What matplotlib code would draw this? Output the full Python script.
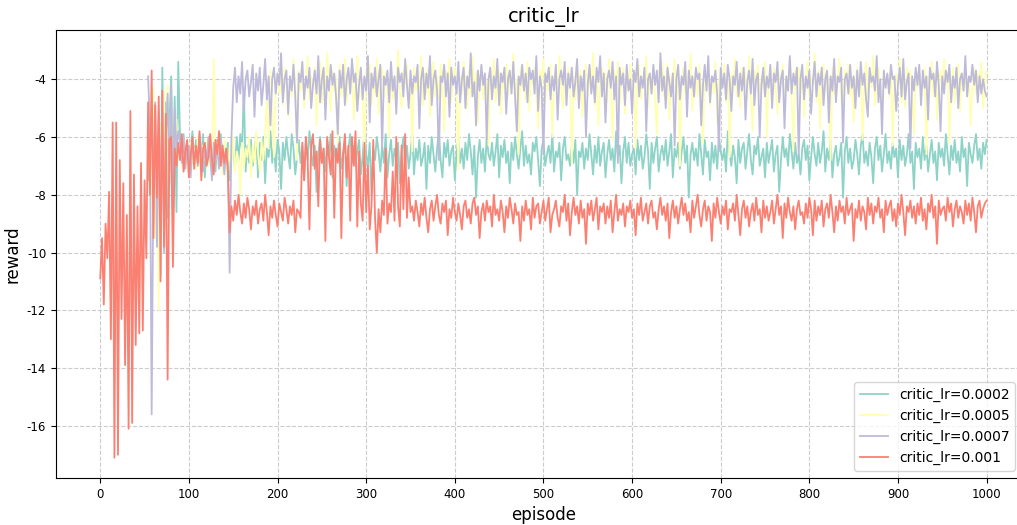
import numpy as np
from matplotlib import pyplot as plt

plt.rcParams['axes.unicode_minus'] = False

# rewards per episode (every 2nd episode)
labels = ['critic_lr=0.0002', 'critic_lr=0.0005', 'critic_lr=0.0007', 'critic_lr=0.001']
colors = ['#8dd3c7', '#ffffb3', '#bebada', '#fb8072']

# critic_lr=0.001, episodes 0..1000
red = [
    -10.9,-9.5,-11.8,-9.0,-10.2,-7.9,-13.0,-5.5,-17.1,-5.5,-17.0,-6.8,-12.3,-7.6,-13.9,-8.7,-16.1,-5.1,-15.9,-7.3,
    -13.2,-8.4,-12.8,-6.9,-12.7,-7.5,-10.2,-4.8,-8.0,-3.7,-9.5,-4.9,-8.1,-4.6,-11.0,-4.4,-9.8,-5.2,-14.4,-6.1,-6.0,
    -10.5,-6.4,-7.0,-6.2,-6.8,-5.9,-7.2,-6.5,-6.1,-7.4,
    -6.6,-6.0,-7.1,-6.3,-6.9,-5.8,-7.5,-6.4,-6.2,-7.0,
    -6.7,-5.9,-6.8,-7.3,-6.1,-6.6,-5.8,-7.0,-6.3,-6.9,
    -6.4,-7.2,
    -9.3,-8.4,-8.9,-8.2,-8.7,-8.0,-8.6,-9.0,-8.3,-8.8,
    -8.1,-8.5,-9.2,-8.4,-8.7,-8.2,-9.0,-8.5,-8.3,-8.9,
    -8.0,-8.6,-9.4,-8.4,-8.8,-8.2,-8.7,-9.1,-8.3,-8.6,
    -8.9,-8.1,-8.5,-9.0,-8.4,-8.7,-8.2,-9.3,-8.5,-8.6,
    -8.8,
    -6.2,-7.5,-6.0,-6.8,-9.2,-6.3,-5.9,-7.1,-6.5,-8.4,
    -6.1,-6.9,-6.4,-9.6,-6.0,-6.7,-7.3,-5.8,-8.8,-6.4,
    -6.9,-6.2,-9.5,-6.6,-5.9,-7.4,-6.3,-8.9,-6.0,-7.0,
    -5.8,-9.1,-6.5,
    -8.3,-8.9,-6.2,-8.6,-7.0,-9.2,-8.4,-6.1,-8.8,-10.0,
    -8.5,-9.3,-8.2,-8.7,-6.4,-9.0,-8.3,-8.6,-7.2,-8.9,
    -6.0,-8.4,-9.1,-6.3,-8.5,-5.9,-8.8,-7.4,-8.6,
    -8.4,-8.9,-8.2,-8.6,-9.1,-8.3,-8.7,-8.1,-8.8,-9.3,
    -8.5,-8.2,-8.9,-8.4,-8.0,-8.7,-9.0,-8.3,-8.6,-8.2,
    -9.4,-8.5,-8.8,-8.1,-8.6,-8.9,-8.3,-8.7,-9.2,-8.4,
    -8.2,-8.8,-8.5,-9.0,-8.3,-8.1,-8.7,-8.4,-9.5,-8.6,
    -8.3,-8.9,-8.2,-8.6,-8.4,-9.1,-8.0,-8.7,-8.5,-8.9,
    -8.2,-8.6,-9.3,-8.4,-8.8,-8.1,-8.5,-9.0,-8.3,-8.7,
    -8.6,-9.6,-8.4,-8.9,-8.2,-8.7,-8.5,-9.2,-8.1,-8.8,
    -8.4,-8.3,-9.0,-8.6,-8.2,-8.9,-8.5,-8.1,-9.3,-8.7,
    -8.5,-8.2,-8.8,-9.1,-8.4,-8.6,-8.0,-8.9,-8.3,-9.4,
    -8.6,-8.1,-8.7,-8.4,-9.0,-8.2,-8.8,-8.5,-9.7,-8.3,
    -8.7,-8.2,-8.9,-8.5,-8.1,-9.2,-8.4,-8.6,-8.3,-9.0,
    -8.4,-8.8,-8.2,-9.3,-8.6,-8.0,-8.9,-8.5,-8.7,-8.3,
    -9.1,-8.4,-8.6,-8.2,-8.8,-8.5,-9.4,-8.3,-8.7,-8.1,
    -8.9,-8.6,-8.3,-9.0,-8.4,-8.2,-8.8,-8.6,-9.2,-8.5,
    -8.1,-8.7,-8.4,-8.9,-8.3,-9.5,-8.6,-8.2,-8.8,-8.4,
    -9.0,-8.5,-8.1,-8.7,-8.3,-8.9,-8.6,-9.3,-8.2,-8.8,
    -8.4,-8.0,-8.7,-9.1,-8.5,-8.2,-8.9,-8.4,-8.6,-9.6,
    -8.3,-8.8,-8.1,-8.6,-9.0,-8.4,-8.7,-8.2,-9.2,-8.5,
    -8.6,-8.3,-8.9,-8.0,-8.7,-9.4,-8.5,-8.2,-8.8,-8.4,
    -9.1,-8.6,-8.3,-8.9,-8.1,-8.7,-8.5,-9.3,-8.2,-8.8,
    -8.4,-8.9,-8.6,-8.2,-9.0,-8.5,-8.0,-8.7,-8.4,-9.5,
    -8.3,-8.8,-8.1,-8.6,-8.9,-8.4,-9.2,-8.5,-8.2,-8.7,
    -8.6,-9.0,-8.3,-8.8,-8.1,-8.5,-9.4,-8.2,-8.9,-8.4,
    -8.7,-8.2,-9.1,-8.5,-8.3,-8.8,-8.0,-8.6,-9.3,-8.4,
    -8.9,-8.2,-8.6,-8.4,-9.0,-8.1,-8.7,-8.5,-8.3,-9.6,
    -8.5,-8.8,-8.2,-8.9,-8.4,-8.6,-9.2,-8.1,-8.7,-8.3,
    -9.0,-8.4,-8.6,-8.1,-8.8,-8.5,-9.3,-8.2,-8.7,-8.4,
    -8.2,-8.9,-8.5,-9.1,-8.3,-8.7,-8.0,-8.6,-9.4,-8.4,
    -8.6,-8.2,-8.8,-8.4,-9.0,-8.3,-8.7,-8.1,-8.9,-8.5,
    -9.2,-8.3,-8.6,-8.0,-8.8,-8.4,-9.7,-8.2,-8.7,-8.5,
    -8.4,-8.9,-8.1,-8.6,-8.3,-9.1,-8.5,-8.2,-8.8,-8.4,
    -8.6,-9.0,-8.2,-8.7,-8.3,-8.9,-8.1,-8.6,-9.3,-8.4,
    -8.2,-8.8,-8.5,-8.3,-8.2,
]

# critic_lr=0.0002, episodes 54..1000
green = [
    -7.5,-6.0,-8.2,-5.2,-9.0,-6.1,-8.5,-10.8,-3.6,-7.4,-4.8,-8.8,-5.5,-3.9,-7.7,-4.6,-8.6,-3.4,
    -6.0,-6.6,-5.9,-6.9,-6.2,-7.3,-6.4,-5.8,-6.8,-6.1,
    -7.0,-6.3,-6.7,-5.9,-7.4,-6.2,-6.5,-6.0,-6.9,-6.4,
    -7.2,-6.1,-6.6,-5.9,-7.0,-6.3,-6.8,-6.2,-7.5,-6.4,
    -6.4,-7.1,-6.0,-6.8,-5.9,-6.5,-4.3,-7.2,-6.3,-6.9,
    -6.1,-7.0,-6.6,-5.9,-7.4,-6.2,-6.8,-6.0,-7.6,-6.4,
    -6.7,-5.8,-6.9,-6.3,-7.2,-6.1,-6.5,-7.8,-6.2,-6.8,
    -6.0,-6.6,-7.1,-5.9,-6.4,-7.3,-6.7,-6.1,-6.9,-6.3,
    -7.5,-6.2,-6.8,-5.8,-6.5,-7.0,-6.3,-7.9,-6.6,-6.0,
    -6.9,-6.4,-7.2,-6.1,-6.7,-5.9,-7.4,-6.3,-6.8,-6.5,
    -6.0,-7.1,-6.6,-6.2,-7.7,-6.4,-5.9,-6.9,-6.3,-7.0,
    -6.5,-6.1,-7.3,-6.7,-5.8,-6.6,-7.0,-6.2,-8.0,-6.4,
    -6.8,-6.0,-6.5,-7.2,-6.3,-6.9,-5.9,-7.4,-6.6,-6.1,
    -7.0,-6.4,-6.8,-6.2,-7.6,-6.5,-6.0,-6.9,-6.3,-7.1,
    -6.6,-5.9,-7.3,-6.4,-6.8,-6.1,-7.0,-6.7,-6.2,-7.8,
    -6.3,-6.9,-6.0,-6.6,-7.2,-6.4,-5.8,-6.8,-7.4,-6.2,
    -6.7,-6.1,-7.0,-6.5,-6.3,-7.5,-6.6,-6.0,-6.9,-6.4,
    -7.1,-6.2,-6.8,-5.9,-6.5,-7.3,-6.3,-8.1,-6.7,-6.1,
    -6.9,-6.4,-7.2,-6.0,-6.6,-6.8,-6.2,-7.0,-6.5,-5.9,
    -7.4,-6.3,-6.7,-6.1,-6.9,-6.5,-7.6,-6.2,-6.8,-6.0,
    -6.6,-7.1,-6.4,-5.8,-7.0,-6.3,-6.9,-6.6,-7.3,-6.2,
    -6.5,-6.0,-6.8,-7.7,-6.4,-6.1,-7.0,-6.6,-6.3,-6.9,
    -5.9,-7.2,-6.5,-6.7,-6.2,-7.5,-6.4,-6.0,-6.8,-6.6,
    -7.0,-6.3,-6.9,-6.1,-8.0,-6.5,-6.7,-6.2,-7.1,-6.4,
    -6.8,-5.9,-6.6,-7.3,-6.3,-6.9,-6.0,-7.0,-6.5,-6.2,
    -7.4,-6.6,-6.1,-6.8,-6.4,-7.2,-5.8,-6.7,-6.3,-7.6,
    -6.5,-6.0,-6.9,-6.2,-7.0,-6.6,-6.4,-7.3,-6.1,-6.8,
    -6.3,-7.1,-6.7,-5.9,-6.5,-7.8,-6.2,-6.9,-6.4,-6.0,
    -7.2,-6.6,-6.3,-6.8,-6.1,-7.0,-6.5,-5.9,-7.4,-6.4,
    -6.7,-6.2,-7.1,-6.5,-6.0,-6.9,-6.3,-8.1,-6.6,-6.2,
    -6.8,-6.4,-7.0,-5.9,-6.6,-7.3,-6.1,-6.7,-6.5,-7.5,
    -6.2,-6.9,-6.3,-7.1,-6.0,-6.5,-6.8,-6.4,-7.2,-5.8,
    -6.6,-7.0,-6.3,-6.7,-7.6,-6.1,-6.9,-6.4,-6.2,-7.1,
    -6.5,-5.9,-6.8,-7.3,-6.3,-6.6,-6.0,-7.0,-6.7,-6.4,
    -7.4,-6.2,-6.9,-6.5,-6.1,-7.2,-6.6,-6.3,-7.9,-6.8,
    -6.0,-6.7,-6.4,-7.0,-5.9,-6.5,-7.1,-6.2,-6.9,-6.6,
    -7.3,-6.4,-6.1,-6.8,-6.3,-7.5,-6.7,-6.0,-6.6,-7.0,
    -6.2,-6.9,-6.5,-5.8,-7.2,-6.4,-6.8,-6.1,-7.4,-6.6,
    -6.3,-7.0,-6.7,-6.2,-8.1,-6.5,-6.0,-6.9,-6.4,-7.1,
    -6.8,-6.1,-6.6,-7.3,-6.3,-5.9,-6.9,-6.5,-7.0,-6.2,
    -6.7,-7.6,-6.4,-6.0,-6.8,-6.3,-7.2,-6.6,-5.9,-6.9,
    -6.5,-7.1,-6.2,-6.7,-6.4,-7.4,-6.1,-6.8,-6.3,-7.0,
    -6.6,-5.9,-6.9,-6.5,-7.8,-6.2,-6.7,-6.4,-7.1,-6.0,
    -6.8,-6.3,-7.2,-6.6,-6.1,-6.9,-6.5,-7.5,-6.2,-6.7,
    -6.4,-7.0,-5.9,-6.6,-7.3,-6.3,-6.8,-6.1,-6.9,-6.5,
    -7.2,-6.0,-6.7,-6.4,-7.7,-6.2,-6.6,-6.9,-6.3,-5.9,
    -6.8,-6.4,-7.1,-6.2,-6.6,-6.1,
]

# critic_lr=0.0005, episodes 54..1000
yellow = [
    -7.0,-5.2,-8.4,-4.3,-9.5,-6.0,-12.0,-5.5,-8.0,-4.4,-9.2,-4.2,-7.3,-5.0,-8.1,-6.0,-5.4,-6.8,
    -6.3,-7.0,-6.1,-6.8,-6.5,-7.3,-6.2,-6.9,-6.4,-7.1,-6.0,-6.7,-7.4,-6.3,-6.8,-6.1,-7.0,-6.5,-6.9,
    -3.3,-6.8,-6.2,-7.0,-6.4,-7.3,-6.1,-6.6,-7.5,-6.3,
    -6.9,-6.0,-7.2,-6.5,-6.8,-8.0,-6.2,-7.1,-6.4,-6.7,
    -6.0,-7.4,-6.3,-6.9,-5.8,-6.6,-7.2,-6.1,-6.8,-5.9,
    -4.5,-6.4,-3.7,-5.2,-6.7,-4.0,
    -3.8,-4.5,-3.4,-4.9,-3.6,-4.2,-5.3,-3.9,-4.6,-3.3,
    -4.1,-6.8,-3.7,-4.4,-3.5,-5.0,-4.0,-3.2,-4.7,-3.9,
    -4.3,-3.6,-5.6,-4.1,-3.4,-4.8,-3.8,-4.5,-3.1,-4.2,
    -5.1,-3.7,-4.4,-3.9,-6.2,-3.5,-4.6,-4.0,-3.3,-4.8,
    -3.8,-4.3,-3.6,-5.4,-4.1,-3.2,-4.7,-3.9,-4.4,-7.0,
    -3.7,-4.2,-3.5,-4.9,-3.9,-4.5,-3.3,-5.2,-4.0,-3.6,
    -4.6,-3.8,-4.3,-6.0,-3.4,-4.7,-3.9,-4.1,-3.0,-4.5,
    -5.0,-3.7,-4.2,-3.5,-4.8,-4.0,-6.5,-3.6,-4.4,-3.9,
    -4.3,-3.2,-4.9,-3.8,-4.5,-3.6,-5.3,-4.1,-3.4,-4.6,
    -3.9,-4.7,-3.5,-4.2,-5.8,-3.7,-4.4,-3.3,-4.8,-4.0,
    -3.6,-4.3,-7.1,-3.9,-4.5,-3.4,-4.1,-5.0,-3.7,-4.6,
    -3.2,-4.4,-3.8,-5.5,-4.0,-3.5,-4.7,-3.9,-4.2,-6.3,
    -3.6,-4.5,-3.3,-4.8,-4.1,-3.7,-5.2,-3.9,-4.4,-3.5,
    -4.6,-3.8,-4.2,-3.1,-4.9,-4.0,-6.6,-3.6,-4.3,-3.8,
    -4.7,-3.4,-5.1,-3.9,-4.2,-3.6,-4.5,-5.7,-3.7,-4.1,
    -3.3,-4.8,-3.9,-4.4,-3.5,-6.0,-4.0,-3.7,-4.6,-3.2,
    -4.3,-5.0,-3.8,-4.5,-3.6,-4.1,-6.9,-3.9,-4.7,-3.4,
    -4.2,-3.7,-5.3,-4.0,-3.5,-4.6,-3.8,-4.3,-3.1,-4.9,
    -3.9,-5.6,-4.1,-3.6,-4.4,-3.8,-4.8,-3.3,-4.2,-6.1,
    -3.7,-4.5,-3.4,-4.9,-4.0,-3.6,-5.2,-3.9,-4.3,-3.5,
    -4.6,-3.8,-6.4,-4.1,-3.5,-4.7,-3.9,-4.2,-3.2,-5.0,
    -3.8,-4.4,-3.6,-4.8,-5.9,-3.7,-4.3,-3.4,-4.6,-4.0,
    -3.5,-5.4,-3.9,-4.2,-3.3,-4.7,-3.8,-7.0,-4.1,-3.6,
    -4.5,-3.9,-4.3,-3.1,-5.1,-4.0,-3.7,-4.6,-3.5,-4.4,
    -6.2,-3.8,-4.2,-3.6,-4.9,-3.9,-4.5,-3.4,-5.5,-4.1,
    -3.7,-4.3,-3.5,-4.8,-4.0,-6.7,-3.8,-4.4,-3.3,-4.6,
    -3.9,-5.0,-3.6,-4.2,-3.8,-4.7,-3.2,-4.5,-5.8,-3.7,
    -4.1,-3.5,-4.6,-3.9,-4.3,-3.4,-6.0,-4.0,-3.7,-4.8,
    -3.6,-4.4,-5.2,-3.8,-4.2,-3.5,-4.9,-3.9,-4.1,-3.3,
    -4.7,-6.5,-3.7,-4.3,-3.6,-4.5,-3.8,-5.3,-4.0,-3.4,
    -4.6,-3.9,-4.2,-3.1,-4.8,-3.7,-5.7,-4.1,-3.5,-4.4,
    -3.8,-4.3,-6.8,-3.6,-4.5,-3.9,-4.0,-3.3,-4.7,-5.1,
    -3.7,-4.2,-3.5,-4.6,-3.9,-5.5,-4.1,-3.6,-4.4,-3.8,
    -6.1,-4.0,-3.4,-4.7,-3.8,-4.3,-3.2,-4.9,-4.1,-3.6,
    -4.5,-5.2,-3.7,-4.2,-3.9,-4.6,-3.5,-6.3,-4.0,-3.8,
    -4.4,-3.3,-4.8,-3.9,-5.0,-3.6,-4.2,-3.7,-4.5,-5.9,
    -3.8,-4.3,-3.5,-4.7,-4.0,-3.6,-6.6,-3.9,-4.4,-3.4,
    -4.6,-3.8,-5.4,-4.1,-3.7,-4.5,-3.3,-4.2,-3.9,-6.2,
    -4.3,-3.6,-4.8,-4.0,-3.5,-5.1,-3.8,-4.4,-3.7,-4.6,
    -3.9,-5.6,-4.2,-3.6,-4.5,-3.8,-4.1,-3.4,-5.0,-4.3,
    -3.7,
]

# critic_lr=0.0007, episodes 54..1000
purple = [
    -3.9,-5.6,-15.6,-7.2,-4.8,-9.8,-5.1,-8.3,-4.4,-10.0,-6.0,-4.5,-7.6,-4.2,-8.8,-5.0,-6.4,-5.8,
    -6.2,-6.9,-6.0,-7.1,-6.5,-6.3,-7.4,-6.1,-6.8,-6.4,
    -7.0,-5.9,-6.6,-7.2,-6.3,-6.9,-6.0,-6.7,-7.5,-6.2,
    -6.8,-6.4,-7.1,-6.1,-6.6,-7.3,-6.5,-6.9,
    -10.7,-6.0,-4.3,-3.6,-4.8,-3.9,-4.5,-3.4,-5.1,-4.0,
    -3.7,-4.6,-4.1,-3.5,-5.3,-3.8,-4.4,-3.6,-4.9,-4.2,
    -3.3,-4.7,-3.9,-5.6,-4.0,-3.6,-4.5,-3.8,-4.2,-3.1,
    -4.8,-4.0,-3.7,-5.2,-3.9,-4.4,-3.5,-4.6,-6.2,-3.8,
    -4.1,-3.4,-4.7,-3.9,-4.3,-3.6,-5.0,-4.2,-3.7,-4.5,
    -3.2,-4.8,-4.0,-3.6,-5.4,-3.9,-4.4,-3.5,-4.2,-3.8,
    -4.6,-5.9,-3.7,-4.3,-3.5,-4.9,-4.0,-3.6,-4.5,-3.3,
    -4.1,-3.8,-5.1,-4.2,-3.6,-4.7,-3.9,-4.4,-3.2,-5.5,
    -3.8,-4.3,-3.6,-4.6,-4.0,-3.5,-6.4,-3.9,-4.2,-3.7,
    -4.8,-3.4,-4.4,-3.9,-5.2,-3.6,-4.1,-3.8,-4.6,-3.3,
    -4.2,-5.0,-3.7,-4.5,-3.9,-4.1,-3.5,-5.7,-4.0,-3.6,
    -4.7,-3.8,-4.3,-3.2,-4.9,-4.0,-3.7,-4.4,-6.8,-3.9,
    -4.1,-3.5,-4.6,-3.8,-5.3,-3.6,-4.2,-3.9,-4.5,-3.4,
    -4.8,-4.0,-3.6,-5.0,-3.9,-4.3,-3.1,-4.6,-4.1,-5.6,
    -3.7,-4.4,-3.5,-4.2,-3.8,-6.1,-4.0,-3.6,-4.7,-3.9,
    -4.3,-3.3,-4.9,-3.8,-4.1,-3.6,-5.2,-4.0,-3.7,-4.5,
    -3.4,-4.6,-5.8,-3.9,-4.2,-3.5,-4.4,-3.8,-4.8,-3.6,
    -4.0,-3.7,-4.5,-3.2,-5.1,-3.9,-4.3,-6.6,-3.8,-4.1,
    -3.6,-4.7,-3.9,-4.4,-3.5,-5.4,-4.0,-3.7,-4.2,-3.4,
    -4.9,-3.8,-4.3,-3.6,-4.6,-4.1,-3.3,-5.0,-3.9,-4.4,
    -3.7,-6.0,-4.2,-3.5,-4.5,-3.9,-4.8,-3.6,-4.1,-3.2,
    -4.6,-3.8,-5.5,-4.0,-3.7,-4.3,-3.4,-4.7,-3.9,-6.9,
    -3.6,-4.2,-3.8,-4.9,-3.5,-4.4,-4.0,-5.2,-3.7,-4.1,
    -3.3,-4.6,-3.9,-4.3,-3.6,-5.8,-4.0,-3.8,-4.5,-3.5,
    -4.2,-3.7,-4.8,-3.1,-4.4,-3.9,-5.0,-3.6,-4.1,-4.6,
    -3.8,-6.3,-4.0,-3.5,-4.7,-3.9,-4.2,-3.4,-5.3,-3.7,
    -4.3,-3.9,-4.6,-3.6,-4.0,-3.8,-5.6,-4.2,-3.5,-4.4,
    -3.2,-4.8,-3.9,-4.1,-3.7,-4.5,-6.5,-3.6,-4.3,-3.8,
    -4.7,-3.5,-4.0,-5.1,-3.9,-4.2,-3.4,-4.6,-3.8,-4.4,
    -3.6,-5.4,-4.1,-3.7,-4.5,-3.3,-4.9,-4.0,-3.8,-6.0,
    -4.2,-3.6,-4.6,-3.9,-4.3,-3.5,-5.0,-3.8,-4.1,-3.4,
    -4.8,-4.0,-3.7,-5.7,-3.9,-4.4,-3.2,-4.5,-3.8,-4.2,
    -3.6,-6.7,-4.0,-3.5,-4.7,-3.9,-4.3,-3.7,-5.2,-4.1,
    -3.4,-4.6,-3.8,-4.2,-3.6,-4.9,-4.0,-3.7,-5.5,-3.9,
    -4.4,-3.3,-4.8,-3.9,-4.1,-3.6,-6.2,-4.0,-3.8,-4.5,
    -3.5,-4.3,-3.9,-5.0,-3.7,-4.6,-3.4,-4.2,-3.8,-4.7,
    -5.3,-3.6,-4.1,-3.9,-4.4,-3.2,-4.8,-4.0,-5.9,-3.7,
    -4.3,-3.8,-4.5,-3.5,-4.0,-3.9,-5.1,-4.2,-3.6,-4.6,
    -3.3,-4.7,-4.1,-3.8,-6.4,-3.9,-4.4,-3.6,-4.2,-3.5,
    -4.9,-3.7,-4.3,-3.9,-5.4,-3.6,-4.0,-3.8,-4.6,-3.4,
    -4.2,-5.8,-3.9,-4.5,-3.7,-4.1,-3.5,-4.8,-3.9,-4.3,
    -3.6,-5.0,-4.0,-3.8,-4.4,-3.2,-4.6,-3.9,-4.1,-3.5,
    -4.2,-3.7,-4.8,-3.9,-4.5,-4.0,-4.4,-4.6,
]

series = [green, yellow, purple, red]
starts = [54, 54, 54, 0]

fig, ax = plt.subplots(figsize=(10.17, 5.25), dpi=100)
for vals, s, c, lab in zip(series, starts, colors, labels):
    x = np.linspace(s, 1000, len(vals))
    ax.plot(x, vals, color=c, linewidth=1.3, label=lab)

ax.set_xticks(np.arange(0, 1001, 100))
ax.grid(True, linestyle='--', color='#cccccc', linewidth=0.8)
ax.tick_params(labelsize=8.5)
ax.set_title('critic_lr', fontsize=14)
ax.set_xlabel('episode', fontsize=12)
ax.set_ylabel('reward', fontsize=12)
# legend pinned inside the visible part of the figure
ax.legend(loc='lower right', fontsize=10, bbox_to_anchor=(0.998, 0.103),
          bbox_transform=fig.transFigure, borderaxespad=0)

# the saved picture cuts off the right end of the axes
plt.subplots_adjust(left=0.055, right=1.0137, bottom=0.0895, top=0.943)
plt.savefig('out.png', dpi=100)
